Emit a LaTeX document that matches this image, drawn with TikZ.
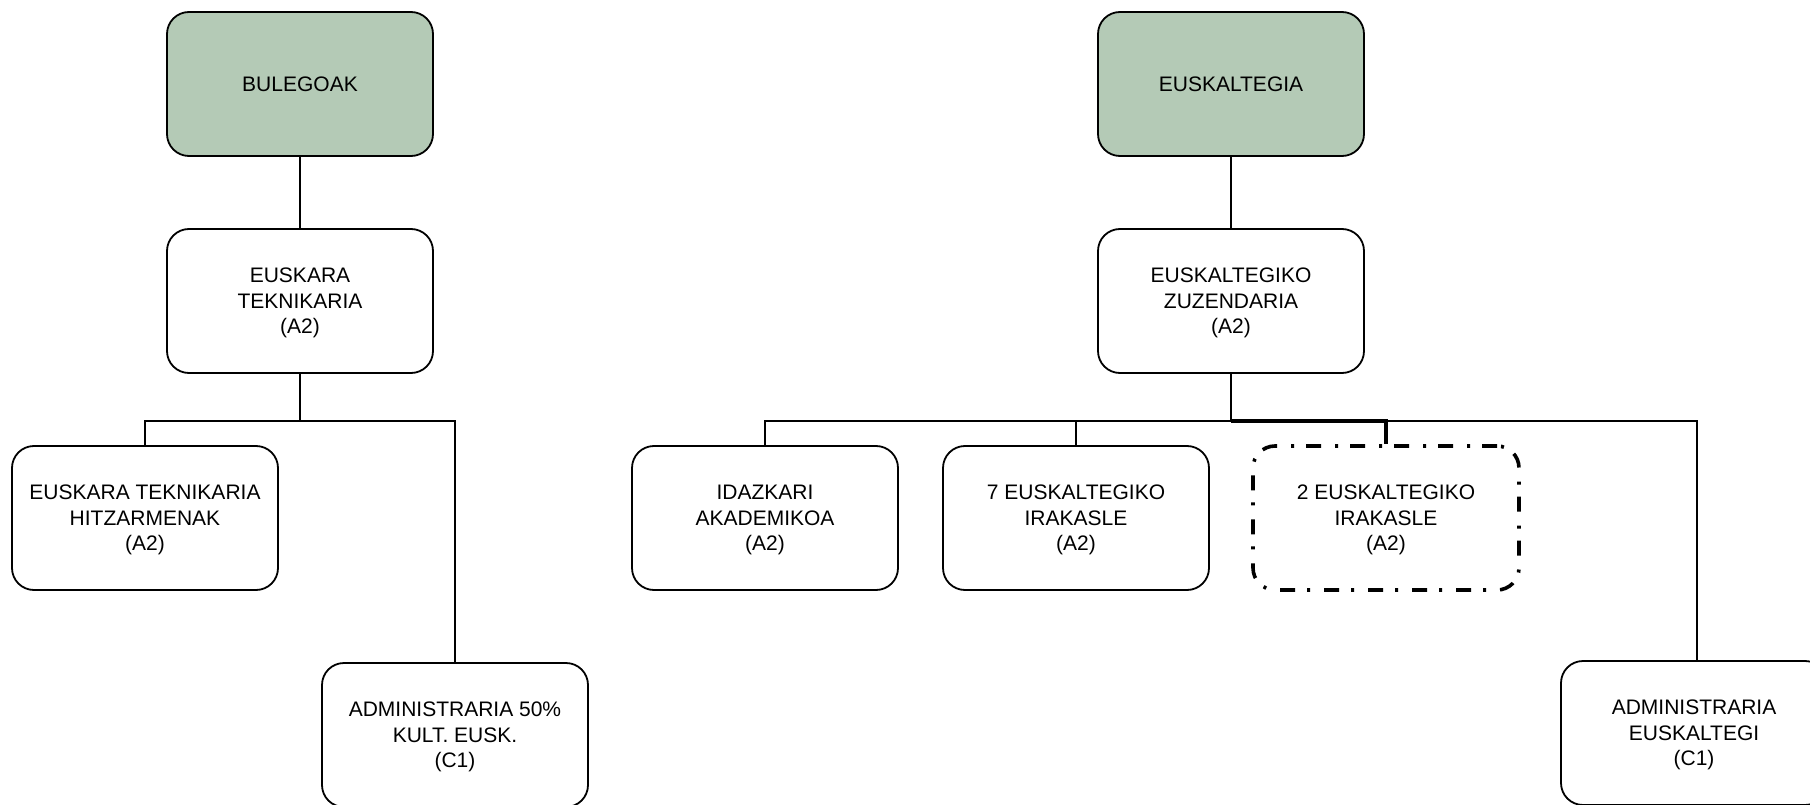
\documentclass[tikz,border=0pt]{standalone}
\usepackage{fontspec}
\setmainfont{Liberation Sans}
\definecolor{hdr}{RGB}{180,202,182}
\tikzset{
 box/.style={draw, line width=1.8pt, rounded corners=22pt, minimum width=266pt, minimum height=144pt, align=center, inner sep=0pt, text depth=0pt, font=\fontsize{21}{25.5}\selectfont, text=black},
 head/.style={box, fill=hdr},
 dashbox/.style={box, line width=3.6pt, dash pattern=on 15pt off 12pt on 3pt off 14pt},
 conn/.style={line width=1.8pt},
 thickconn/.style={line width=3.3pt},
}
\begin{document}
\begin{tikzpicture}[x=1pt,y=-1pt]
\useasboundingbox (0,0) rectangle (1810,805);
\clip (0,0) rectangle (1810,805);
% left tree
\node[head] (bul) at (300,84) {BULEGOAK};
\node[box] (tek) at (300,301) {EUSKARA\\TEKNIKARIA\\(A2)};
\node[box] (hitz) at (145,518) {EUSKARA TEKNIKARIA\\HITZARMENAK\\(A2)};
\node[box] (adm1) at (455,735) {ADMINISTRARIA 50\%\\KULT. EUSK.\\(C1)};
\coordinate (lbus) at (300,421);
\draw[conn] (bul) -- (tek);
\draw[conn] (tek) -- (lbus);
\draw[conn] (lbus) -| (hitz.north);
\draw[conn] (lbus) -| (adm1.north);
% right tree
\node[head] (eus) at (1231,84) {EUSKALTEGIA};
\node[box] (zuz) at (1231,301) {EUSKALTEGIKO\\ZUZENDARIA\\(A2)};
\node[box] (ida) at (765,518) {IDAZKARI\\AKADEMIKOA\\(A2)};
\node[box] (ira7) at (1076,518) {7 EUSKALTEGIKO\\IRAKASLE\\(A2)};
\node[dashbox] (ira2) at (1386,518) {2 EUSKALTEGIKO\\IRAKASLE\\(A2)};
\node[box] (adm2) at (1694,733) {ADMINISTRARIA\\EUSKALTEGI\\(C1)};
\coordinate (rbus) at (1231,421);
\coordinate (adm2top) at (1697,661);
\draw[conn] (eus) -- (zuz);
\draw[conn] (zuz) -- (rbus);
\draw[conn] (rbus) -| (ida.north);
\draw[conn] (rbus) -| (ira7.north);
\draw[conn] (rbus) -| (adm2top);
\draw[thickconn] (rbus) -| (ira2.north);
\end{tikzpicture}
\end{document}
